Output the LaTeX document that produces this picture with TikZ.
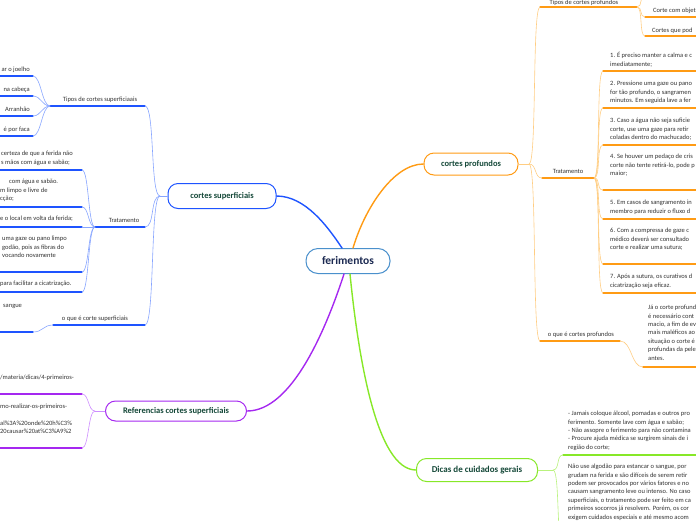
\documentclass[tikz,border=0pt]{standalone}
\usepackage{fontspec}
\setmainfont{Carlito}

\definecolor{rootline}{RGB}{74,144,204}
\definecolor{rootink}{RGB}{28,42,82}
\definecolor{topicink}{RGB}{20,72,56}
\definecolor{leafink}{RGB}{50,50,50}
\definecolor{blueA}{RGB}{30,84,255}
\definecolor{blueB}{RGB}{135,165,255}
\definecolor{orangeA}{RGB}{255,155,20}
\definecolor{orangeB}{RGB}{255,205,130}
\definecolor{purpleA}{RGB}{165,40,240}
\definecolor{purpleB}{RGB}{205,140,255}
\definecolor{greenA}{RGB}{135,232,40}
\definecolor{greenB}{RGB}{185,242,125}

\tikzset{
  topic/.style={draw, line width=1pt, fill=white, rounded corners=10pt, inner sep=0pt,
    minimum height=22pt, text=topicink, font=\bfseries\fontsize{8.5}{10}\selectfont},
  rootbox/.style={topic, draw=rootline, rounded corners=12pt, minimum width=84pt,
    minimum height=25pt, text=rootink, font=\bfseries\fontsize{11.5}{13}\selectfont},
  leaf/.style={inner sep=0pt, align=left, text=leafink, font=\fontsize{6.5}{8.4}\selectfont},
  branchtext/.style={inner sep=0pt, anchor=base, text=leafink, font=\fontsize{6.5}{8}\selectfont},
  mainlink/.style={line width=1.4pt},
  sublink/.style={line width=0.6pt},
  uline/.style={line width=1.3pt},
}

\begin{document}
\begin{tikzpicture}[x=1pt,y=-1pt,line join=round,line cap=round]

  % ---- page (pixel coordinates, y grows downwards) ----
  \useasboundingbox (0,0) rectangle (696,520);
  \clip (0,0) rectangle (696,520);

  % ---- central topic and main topics ----
  \node[rootbox] (root) at (348,261) {ferimentos};
  \node[topic, draw=blueA, minimum width=108pt, minimum height=25pt] (sup) at (222,196) {cortes superficiais};
  \node[topic, draw=orangeA, minimum width=94pt] (prof) at (471,164) {cortes profundos};
  \node[topic, draw=purpleA, minimum width=141pt, minimum height=20pt] (refs) at (176,411) {Referencias cortes superficiais};
  \node[topic, draw=greenA, minimum width=121pt, minimum height=23pt,
    font=\bfseries\fontsize{9}{10}\selectfont] (dicas) at (477,470) {Dicas de cuidados gerais};

  \draw[mainlink, blueA] ([xshift=-6pt]root.north) .. controls +(-14,-21) and +(29,0) .. (sup.east);
  \draw[mainlink, orangeA] ([xshift=5pt]root.north) .. controls +(12,-40) and +(-30,0) .. (prof.west);
  \draw[mainlink, purpleA] ([xshift=-4pt]root.south) .. controls +(-18,55) and +(45,0) .. (refs.east);
  \draw[mainlink, greenA] ([xshift=2pt]root.south) .. controls +(8,80) and +(-40,0) .. (dicas.west);

  % ---- cortes superficiais ----
  \coordinate (supHub) at (160,196);
  \draw[sublink, blueB] (sup.west) -- (supHub);

  % tipos
  \coordinate (tiposSupL) at (50,106);
  \coordinate (tiposSupR) at (145,106);
  \draw[uline, blueA] (tiposSupL) -- (tiposSupR);
  \draw[sublink, blueB] (supHub) .. controls +(-10,0) and +(10,0) .. (tiposSupR);
  \node[branchtext] (tiposSupTxt) at (100,101.5) {Tipos de cortes superficiaais};
  \foreach \y/\t in {76/ar o joelho, 96/na cabeça, 116/Arranhão, 136/é por faca} {
    \coordinate (tipoS\y) at (33,\y);
    \draw[uline, blueA] (0,\y) -- (tipoS\y);
    \draw[sublink, blueB] (tiposSupL) .. controls +(-8,0) and +(8,0) .. (tipoS\y);
    \node[leaf, anchor=base east] (tipoSTxt\y) at (30,\y-4.5) {\t};
  }

  % tratamento
  \coordinate (trSupHub) at (95,227);
  \coordinate (trSupR) at (145,227);
  \draw[uline, blueA] (trSupHub) -- (trSupR);
  \draw[sublink, blueB] (supHub) .. controls +(-10,0) and +(10,0) .. (trSupR);
  \node[branchtext] (trSupTxt) at (124,222.5) {Tratamento};
  \foreach \y in {170,207,227,272,292} {
    \coordinate (trS\y) at (82,\y);
    \draw[uline, blueA] (0,\y) -- (trS\y);
    \draw[sublink, blueB] (trSupHub) .. controls +(-7,0) and +(7,0) .. (trS\y);
  }
  \node[leaf, anchor=north west] (trS1) at (1,151) {certeza de que a ferida não\\s mãos com água e sabão;};
  \node[leaf, anchor=north west] (trS2a) at (9,179) {com água e sabão.};
  \node[leaf, anchor=north west] (trS2b) at (0,187.4) {m limpo e livre de\\cção;};
  \node[leaf, anchor=north west] (trS3) at (0,216) {e o local em volta da ferida;};
  \node[leaf, anchor=north west] (trS4) at (2,236) {uma gaze ou pano limpo\\godão, pois as fibras do\\vocando novamente};
  \node[leaf, anchor=north west] (trS5) at (0,281) {para facilitar a cicatrização.};

  % o que e
  \coordinate (oqSupL) at (53,325);
  \coordinate (oqSupR) at (145,325);
  \draw[uline, blueA] (oqSupL) -- (oqSupR);
  \draw[sublink, blueB] (supHub) .. controls +(-10,0) and +(10,0) .. (oqSupR);
  \node[branchtext] (oqSupTxt) at (95,320.5) {o que é corte superficiais};
  \coordinate (oqS1) at (33,332);
  \draw[sublink, blueB] (oqSupL) .. controls +(-10,0) and +(10,0) .. (oqS1);
  \draw[uline, blueA] (0,332) -- (oqS1);
  \node[leaf, anchor=north west] (oqSTxt) at (3,304) {sangue};

  % ---- referencias ----
  \coordinate (refHub) at (95,411);
  \draw[sublink, purpleB] (refs.west) -- (refHub);
  \foreach \y in {394,448} {
    \coordinate (ref\y) at (82,\y);
    \draw[uline, purpleA] (0,\y) -- (ref\y);
    \draw[sublink, purpleB] (refHub) .. controls +(-7,0) and +(7,0) .. (ref\y);
  }
  \node[leaf, anchor=north west] (ref1) at (0,375) {/materia/dicas/4-primeiros-};
  \node[leaf, anchor=north west] (ref2) at (0,404) {mo-realizar-os-primeiros-\\[8.4pt]al\%3A\%20onde\%20h\%C3\%\\20causar\%20at\%C3\%A9\%2};

  % ---- cortes profundos ----
  \coordinate (profHub) at (529,164);
  \draw[sublink, orangeB] (prof.east) -- (profHub);

  % tipos
  \coordinate (tiposProL) at (540,7);
  \coordinate (tiposProR) at (637,7);
  \draw[uline, orangeA] (tiposProL) -- (tiposProR);
  \draw[sublink, orangeB] (profHub) .. controls +(8,0) and +(-8,0) .. (tiposProL);
  \node[branchtext] (tiposProTxt) at (584,4.5) {Tipos de cortes profundos};
  \foreach \y in {-5,17,36} {
    \coordinate (tipoP\y) at (645,\y);
    \draw[uline, orangeA] (tipoP\y) -- (700,\y);
    \draw[sublink, orangeB] (tiposProR) .. controls +(6,0) and +(-6,0) .. (tipoP\y);
  }
  \node[leaf, anchor=north west] (tipoP1) at (653,8) {Corte com objet};
  \node[leaf, anchor=north west] (tipoP2) at (652,28) {Cortes que pod};

  % tratamento
  \coordinate (trProL) at (542,178);
  \coordinate (trProHub) at (594,178);
  \draw[uline, orangeA] (trProL) -- (trProHub);
  \draw[sublink, orangeB] (profHub) .. controls +(8,0) and +(-8,0) .. (trProL);
  \node[branchtext] (trProTxt) at (568,173.5) {Tratamento};
  \foreach \y in {71,108,145,190,219,264,293} {
    \coordinate (trP\y) at (603,\y);
    \draw[uline, orangeA] (trP\y) -- (700,\y);
    \draw[sublink, orangeB] (trProHub) .. controls +(7,0) and +(-7,0) .. (trP\y);
  }
  \node[leaf, anchor=north west] (trP1) at (610,52) {1. É preciso manter a calma e c\\imediatamente;};
  \node[leaf, anchor=north west] (trP2) at (610,81) {2. Pressione uma gaze ou pano\\for tão profundo, o sangramen\\minutos. Em seguida lave a fer};
  \node[leaf, anchor=north west] (trP3) at (610,118) {3. Caso a água não seja suficie\\corte, use uma gaze para retir\\coladas dentro do machucado;};
  \node[leaf, anchor=north west] (trP4) at (610,154) {4. Se houver um pedaço de cris\\corte não tente retirá-lo, pode p\\maior;};
  \node[leaf, anchor=north west] (trP5) at (610,200) {5. Em casos de sangramento in\\membro para reduzir o fluxo d};
  \node[leaf, anchor=north west] (trP6) at (610,228) {6. Com a compressa de gaze c\\médico deverá ser consultado\\corte e realizar uma sutura;};
  \node[leaf, anchor=north west] (trP7) at (610,274) {7. Após a sutura, os curativos d\\cicatrização seja eficaz.};

  % o que e
  \coordinate (oqProL) at (540,341);
  \coordinate (oqProR) at (620,341);
  \draw[uline, orangeA] (oqProL) -- (oqProR);
  \draw[sublink, orangeB] (profHub) .. controls +(8,0) and +(-8,0) .. (oqProL);
  \node[branchtext] (oqProTxt) at (581,336.5) {o que é cortes profundos};
  \coordinate (oqP1) at (643,367);
  \draw[sublink, orangeB] (oqProR) .. controls +(12,0) and +(-12,0) .. (oqP1);
  \draw[uline, orangeA] (oqP1) -- (700,367);
  \node[leaf, anchor=north west] (oqPTxt) at (648,305) {Já o corte profund\\é necessário cont\\macio, a fim de ev\\mais maléficos ao\\situação o corte é\\profundas da pele\\antes.};

  % ---- dicas de cuidados gerais ----
  \coordinate (dicasHub) at (553,470);
  \draw[sublink, greenB] (dicas.east) -- (dicasHub);
  \coordinate (dica1) at (563,455);
  \coordinate (dica2) at (563,545);
  \draw[uline, greenA] (dica1) -- (700,455);
  \draw[sublink, greenB] (dicasHub) .. controls +(7,0) and +(-7,0) .. (dica1);
  \draw[sublink, greenB] (dicasHub) .. controls +(7,0) and +(-7,0) .. (dica2);
  \node[leaf, anchor=north west] (dicaTxt1) at (568,411) {- Jamais coloque álcool, pomadas e outros pro\\ferimento. Somente lave com água e sabão;\\- Não assopre o ferimento para não contamina\\- Procure ajuda médica se surgirem sinais de i\\região do corte;};
  \node[leaf, anchor=north west] (dicaTxt2) at (568,464) {Não use algodão para estancar o sangue, por\\grudam na ferida e são difíceis de serem retir\\podem ser provocados por vários fatores e no\\causam sangramento leve ou intenso. No caso\\superficiais, o tratamento pode ser feito em ca\\primeiros socorros já resolvem. Porém, os cor\\exigem cuidados especiais e até mesmo acom};

\end{tikzpicture}
\end{document}
